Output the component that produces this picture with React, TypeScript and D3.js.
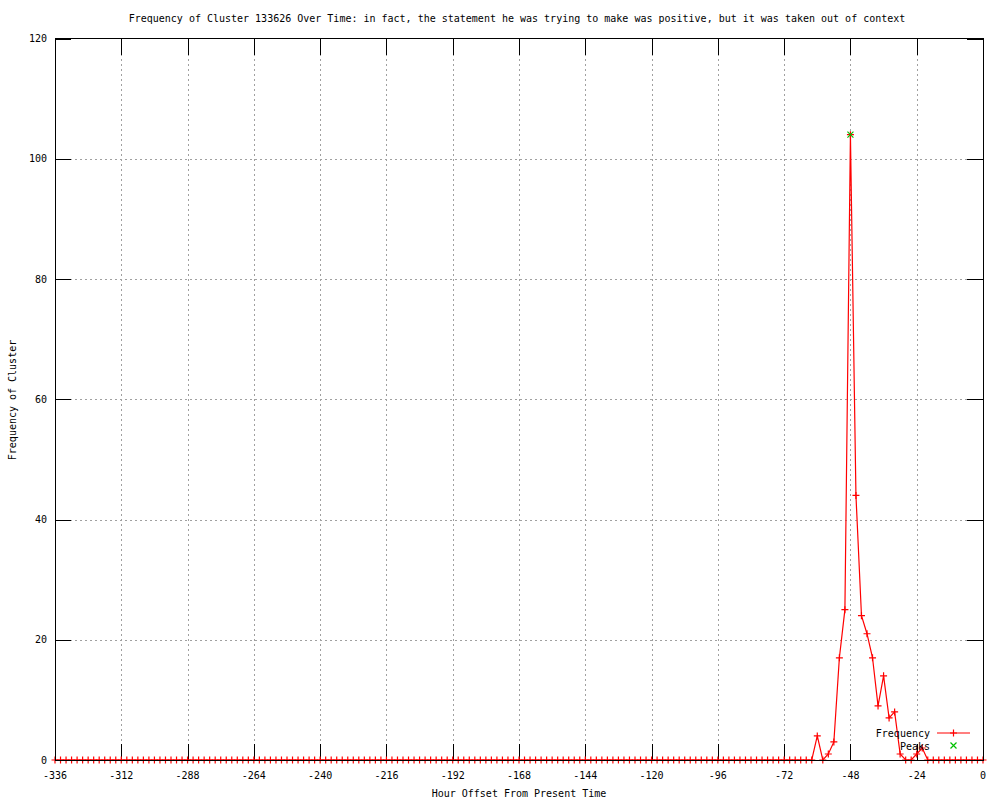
import React from "react";
import * as d3 from "d3";

// hourly samples, one every 2 hours from -336 to 0
const hours: number[] = d3.range(-336, 1, 2);
const frequency: number[] = [
  0, 0, 0, 0, 0, 0, 0, 0, 0, 0, 0, 0,
  0, 0, 0, 0, 0, 0, 0, 0, 0, 0, 0, 0,
  0, 0, 0, 0, 0, 0, 0, 0, 0, 0, 0, 0,
  0, 0, 0, 0, 0, 0, 0, 0, 0, 0, 0, 0,
  0, 0, 0, 0, 0, 0, 0, 0, 0, 0, 0, 0,
  0, 0, 0, 0, 0, 0, 0, 0, 0, 0, 0, 0,
  0, 0, 0, 0, 0, 0, 0, 0, 0, 0, 0, 0,
  0, 0, 0, 0, 0, 0, 0, 0, 0, 0, 0, 0,
  0, 0, 0, 0, 0, 0, 0, 0, 0, 0, 0, 0,
  0, 0, 0, 0, 0, 0, 0, 0, 0, 0, 0, 0,
  0, 0, 0, 0, 0, 0, 0, 0, 0, 0, 0, 0,
  0, 0, 0, 0, 0, 0, 4, 0, 1, 3, 17, 25,
  104, 44, 24, 21, 17, 9, 14, 7, 8, 1, 0, 0,
  1, 2, 0, 0, 0, 0, 0, 0, 0, 0, 0, 0,
  0,
];
const peakHours = [-48];
const peakValues = [104];

const xTicks = [-336, -312, -288, -264, -240, -216, -192, -168, -144, -120, -96, -72, -48, -24, 0];
const yTicks = [0, 20, 40, 60, 80, 100, 120];

const title =
  "Frequency of Cluster 133626 Over Time: in fact, the statement he was trying to make was positive, but it was taken out of context";

const W = 1000;
const H = 800;
const left = 55;
const right = 983;
const top = 38.5;
const bottom = 760;
const font = "'DejaVu Sans Mono', monospace";
const tickLen = 16;

export default function App() {
  const x = d3.scaleLinear().domain([-336, 0]).range([left, right]);
  const y = d3.scaleLinear().domain([0, 120]).range([bottom, top]);

  const line = d3
    .line<number>()
    .x((_, i) => x(hours[i]))
    .y((d) => y(d));

  const plus = (cx: number, cy: number, k: string) => (
    <path
      key={k}
      d={`M${cx - 3.5},${cy}H${cx + 3.5}M${cx},${cy - 3.5}V${cy + 3.5}`}
      stroke="#ff0000"
      strokeWidth={1.2}
      fill="none"
    />
  );
  const cross = (cx: number, cy: number, k: string) => (
    <path
      key={k}
      d={`M${cx - 3},${cy - 3}L${cx + 3},${cy + 3}M${cx - 3},${cy + 3}L${cx + 3},${cy - 3}`}
      stroke="#00c000"
      strokeWidth={1.2}
      fill="none"
    />
  );

  return (
    <div style={{ position: "absolute", left: 0, top: 0, background: "#fff" }}>
      <svg width={W} height={H} style={{ display: "block" }} fontFamily={font} fontSize={10}>
        <rect width={W} height={H} fill="#fff" />

        {/* grid */}
        <g stroke="#a0a0a0" strokeDasharray="2,3" strokeWidth={1} shapeRendering="crispEdges">
          {xTicks
            .filter((t) => t !== -336 && t !== 0)
            .map((t) => (
              <line key={"gx" + t} x1={Math.round(x(t)) + 0.5} x2={Math.round(x(t)) + 0.5} y1={top} y2={bottom} />
            ))}
          {yTicks
            .filter((t) => t !== 0 && t !== 120)
            .map((t) => (
              <line key={"gy" + t} x1={left} x2={right} y1={Math.round(y(t)) + 0.5} y2={Math.round(y(t)) + 0.5} />
            ))}
        </g>

        {/* key area */}
        <rect x={872} y={724} width={104} height={28} fill="#fff" />

        {/* tick marks, mirrored */}
        <g stroke="#000" strokeWidth={1} shapeRendering="crispEdges">
          {xTicks.map((t) => {
            const px = Math.round(x(t)) + 0.5;
            return (
              <g key={"tx" + t}>
                <line x1={px} x2={px} y1={bottom} y2={bottom - tickLen} />
                <line x1={px} x2={px} y1={top} y2={top + tickLen} />
              </g>
            );
          })}
          {yTicks.map((t) => {
            const py = Math.round(y(t)) + 0.5;
            return (
              <g key={"ty" + t}>
                <line x1={left} x2={left + tickLen} y1={py} y2={py} />
                <line x1={right} x2={right - tickLen} y1={py} y2={py} />
              </g>
            );
          })}
        </g>

        {/* frequency series */}
        <path d={line(frequency) ?? ""} fill="none" stroke="#ff0000" strokeWidth={1.2} />
        {frequency.map((v, i) => plus(x(hours[i]), y(v), "p" + i))}

        {/* peaks */}
        {peakValues.map((v, i) => cross(x(peakHours[i]), y(v), "k" + i))}

        {/* border */}
        <rect
          x={left}
          y={top}
          width={right - left}
          height={bottom - top}
          fill="none"
          stroke="#000"
          strokeWidth={1}
          shapeRendering="crispEdges"
        />

        {/* tick labels */}
        {xTicks.map((t) => (
          <text key={"lx" + t} x={x(t)} y={779} textAnchor="middle">
            {t}
          </text>
        ))}
        {yTicks.map((t) => (
          <text key={"ly" + t} x={47} y={y(t) + 3.5} textAnchor="end">
            {t}
          </text>
        ))}

        {/* titles */}
        <text x={517} y={22} textAnchor="middle">
          {title}
        </text>
        <text x={519} y={797} textAnchor="middle">
          Hour Offset From Present Time
        </text>
        <text transform="translate(16,400) rotate(-90)" textAnchor="middle">
          Frequency of Cluster
        </text>

        {/* legend */}
        <text x={930} y={736.5} textAnchor="end">
          Frequency
        </text>
        <line x1={937} x2={970} y1={733} y2={733} stroke="#ff0000" strokeWidth={1.2} />
        {plus(953.5, 733, "legp")}
        <text x={930} y={749.5} textAnchor="end">
          Peaks
        </text>
        {cross(953.5, 745.5, "legk")}
      </svg>
    </div>
  );
}
